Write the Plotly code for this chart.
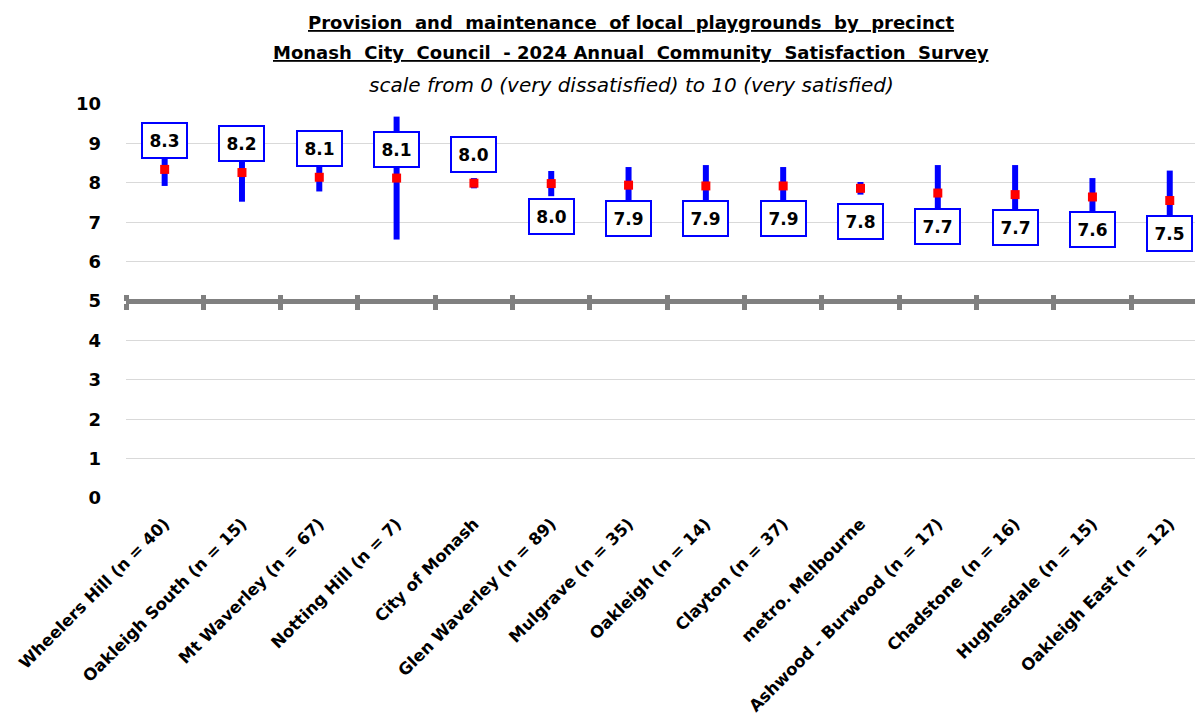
import plotly.graph_objects as go

categories = ["Wheelers Hill (n = 40)", "Oakleigh South (n = 15)", "Mt Waverley (n = 67)",
              "Notting Hill (n = 7)", "City of Monash", "Glen Waverley (n = 89)",
              "Mulgrave (n = 35)", "Oakleigh (n = 14)", "Clayton (n = 37)",
              "metro. Melbourne", "Ashwood - Burwood (n = 17)", "Chadstone (n = 16)",
              "Hughesdale (n = 15)", "Oakleigh East (n = 12)"]
means = [8.34, 8.26, 8.14, 8.12, 7.99, 7.98, 7.94, 7.92, 7.92, 7.86, 7.74, 7.70, 7.64, 7.55]
ci_half = [0.42, 0.74, 0.36, 1.56, 0.13, 0.32, 0.46, 0.53, 0.48, 0.16, 0.71, 0.75, 0.48, 0.76]
value_labels = ["8.3", "8.2", "8.1", "8.1", "8.0", "8.0", "7.9", "7.9", "7.9", "7.8",
                "7.7", "7.7", "7.6", "7.5"]
label_side = ["above"] * 5 + ["below"] * 9
y_ticks = list(range(0, 11))

FONT = "DejaVu Sans"
BLUE = "#0000FF"
RED = "#FF0000"
GREY = "#808080"
SP = "\u00a0 "

fig = go.Figure()

fig.add_trace(go.Scatter(
    x=categories, y=means, mode="markers",
    marker=dict(symbol="square", size=9, color=RED),
    error_y=dict(type="data", array=ci_half, visible=True, color=BLUE,
                 thickness=6, width=0),
    showlegend=False, hoverinfo="skip",
))
# invisible helpers so the decorative axis at 5 is drawn
for ax in ["x2", "x3"]:
    fig.add_trace(go.Scatter(x=categories, y=means, xaxis=ax, mode="markers",
                             marker=dict(opacity=0), showlegend=False, hoverinfo="skip"))

for cat, m, lab, side in zip(categories, means, value_labels, label_side):
    fig.add_annotation(
        x=cat, y=m, xref="x", yref="y", text="<b>" + lab + "</b>", showarrow=False,
        yshift=29 if side == "above" else -33,
        font=dict(family=FONT, size=17, color="black"),
        bgcolor="white", bordercolor=BLUE, borderwidth=2, borderpad=1,
        width=41, height=31,
    )

line1 = SP.join(["Provision", "and", "maintenance", "of local", "playgrounds", "by", "precinct"])
line2 = SP.join(["Monash", "City", "Council", "- 2024 Annual", "Community", "Satisfaction", "Survey"])
line3 = "scale from 0 (very dissatisfied) to 10 (very satisfied)"
title_lines = [
    ("<b><u>" + line1 + "</u></b>", 1.208, 18),
    ("<b><u>" + line2 + "</u></b>", 1.130, 18),
    ("<i>" + line3 + "</i>", 1.049, 20),
]
for txt, yy, sz in title_lines:
    fig.add_annotation(x=0.469, y=yy, xref="paper", yref="paper", text=txt,
                       showarrow=False, xanchor="center", yanchor="middle",
                       font=dict(family=FONT, size=sz, color="black"))

xrange = [-0.5, 13.43]
fig.update_layout(
    width=1195, height=713,
    margin=dict(l=118, r=0, t=96, b=223),
    paper_bgcolor="white", plot_bgcolor="white",
    font=dict(family=FONT, color="black"),
    xaxis=dict(type="category", range=xrange, showgrid=False, showline=False,
               ticks="", tickangle=-45, zeroline=False, ticklabelstandoff=12,
               tickfont=dict(family=FONT, size=16.5, color="black", weight="bold")),
    xaxis2=dict(type="category", range=xrange, overlaying="x", anchor="free",
                position=0.5, side="bottom", showline=True, linecolor=GREY,
                linewidth=5, ticks="outside", tickson="boundaries", ticklen=6,
                tickwidth=5, tickcolor=GREY, showticklabels=False, showgrid=False,
                zeroline=False),
    xaxis3=dict(type="category", range=xrange, overlaying="x", anchor="free",
                position=0.5, side="top", showline=False, ticks="outside",
                tickson="boundaries", ticklen=6, tickwidth=5, tickcolor=GREY,
                showticklabels=False, showgrid=False, zeroline=False),
    yaxis=dict(range=[0, 10], tickvals=y_ticks, showgrid=True, gridcolor="#D9D9D9",
               gridwidth=1, zeroline=False, showline=False, ticks="",
               ticklabelstandoff=24,
               tickfont=dict(family=FONT, size=18, color="black", weight="bold")),
)

fig.write_html("out.html")
